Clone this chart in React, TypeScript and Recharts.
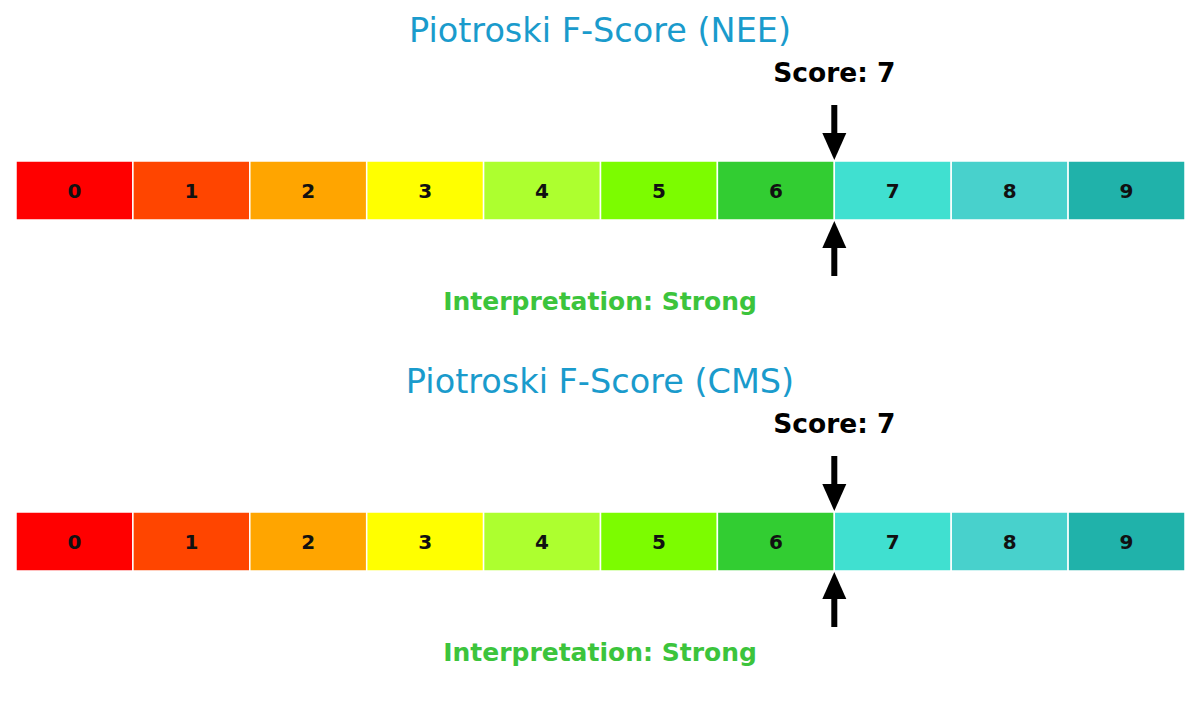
import { BarChart, Bar, XAxis, YAxis, ReferenceLine, LabelList } from 'recharts';

const segmentColors = [
  '#FF0000', '#FF4500', '#FFA500', '#FFFF00', '#ADFF2F',
  '#7CFC00', '#32CD32', '#40E0D0', '#48D1CC', '#20B2AA',
];
const segmentLabels = ['0', '1', '2', '3', '4', '5', '6', '7', '8', '9'];
const tickers = ['NEE', 'CMS'];
const scores = [7, 7];
const interpretations = ['Strong', 'Strong'];

const W = 1200;
const H = 351;
const FONT = '"DejaVu Sans", sans-serif';

const row: { [key: string]: string | number } = { name: 'score' };
segmentLabels.forEach((_, i) => {
  row[`s${i}`] = 1;
});
const data = [row];

const ScoreMarker = (props: any) => {
  const { x1, y1, y2, score } = props;
  const x = x1;
  const top = Math.min(y1, y2);
  const bottom = Math.max(y1, y2);
  return (
    <g>
      <text x={x} y={82} textAnchor="middle" fontFamily={FONT} fontWeight="bold" fontSize={26.5} fill="#000">
        {`Score: ${score}`}
      </text>
      <rect x={x - 3} y={top - 56} width={6} height={30} fill="#000" />
      <polygon points={`${x - 12},${top - 28} ${x + 12},${top - 28} ${x},${top - 1}`} fill="#000" />
      <rect x={x - 3} y={bottom + 26} width={6} height={30} fill="#000" />
      <polygon points={`${x - 12},${bottom + 28} ${x + 12},${bottom + 28} ${x},${bottom + 1}`} fill="#000" />
    </g>
  );
};

const SegmentLabel = (props: any) => {
  const { x, y, width, height, text } = props;
  return (
    <text
      x={x + width / 2}
      y={y + height / 2}
      textAnchor="middle"
      dominantBaseline="central"
      fontFamily={FONT}
      fontWeight="bold"
      fontSize={20}
      fill="#111"
    >
      {text}
    </text>
  );
};

const ScorePanel = ({ ticker, score, interpretation }: { ticker: string; score: number; interpretation: string }) => (
  <div style={{ position: 'relative', width: W, height: H }}>
    <BarChart
      width={W}
      height={H}
      data={data}
      layout="vertical"
      margin={{ top: 161, right: 15, bottom: 131, left: 16 }}
      barCategoryGap={0}
    >
      <XAxis type="number" domain={[0, 10]} hide />
      <YAxis type="category" dataKey="name" hide />
      {segmentColors.map((c, i) => (
        <Bar
          key={i}
          dataKey={`s${i}`}
          stackId="a"
          fill={c}
          stroke="#fff"
          strokeWidth={1.5}
          isAnimationActive={false}
        >
          <LabelList dataKey={`s${i}`} content={(p: any) => <SegmentLabel {...p} text={segmentLabels[i]} />} />
        </Bar>
      ))}
      <ReferenceLine x={score} stroke="none" shape={(p: any) => <ScoreMarker {...p} score={score} />} />
      <text x={W / 2} y={42} textAnchor="middle" fontFamily={FONT} fontSize={33.5} fill="#1A9BCC">
        {`Piotroski F-Score (${ticker})`}
      </text>
      <text x={W / 2} y={310} textAnchor="middle" fontFamily={FONT} fontWeight="bold" fontSize={25} fill="#3CC43C">
        {`Interpretation: ${interpretation}`}
      </text>
    </BarChart>
  </div>
);

export default function App() {
  return (
    <div style={{ position: 'absolute', top: 0, left: 0, width: W, height: 702, background: '#fff' }}>
      {tickers.map((t, i) => (
        <ScorePanel key={t} ticker={t} score={scores[i]} interpretation={interpretations[i]} />
      ))}
    </div>
  );
}
